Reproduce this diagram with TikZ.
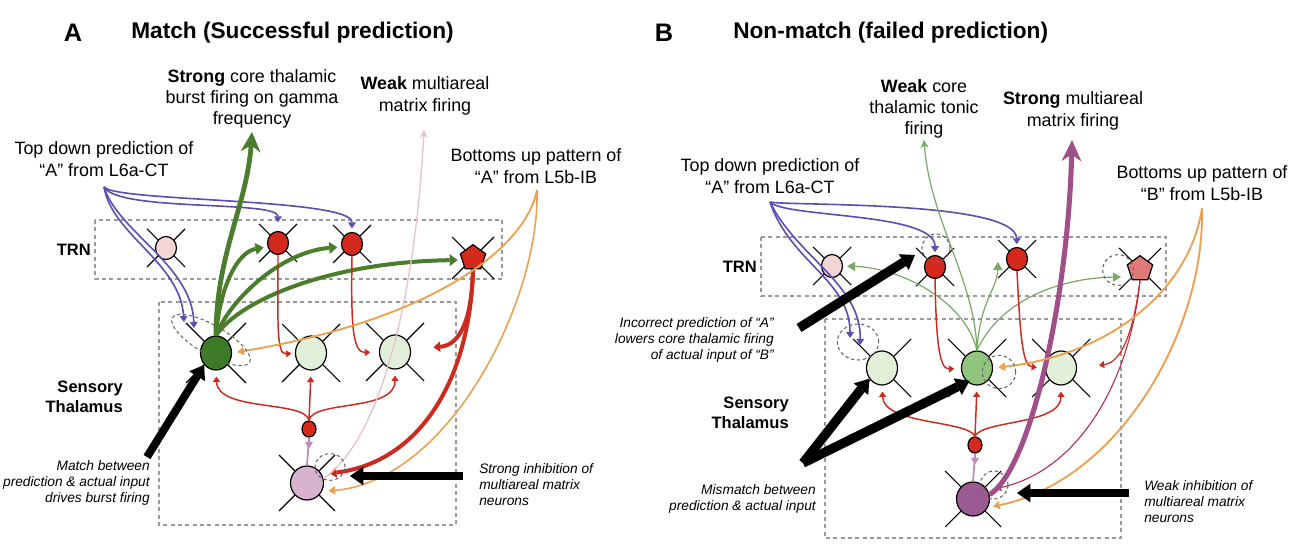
\documentclass[tikz,border=0pt]{standalone}
\usepackage{fontspec}
\setmainfont{Liberation Sans}
\usetikzlibrary{arrows.meta,shapes.geometric,calc}
\pgfdeclarelayer{bg}
\pgfsetlayers{bg,main}
\definecolor{pur}{HTML}{5A4DB3}
\definecolor{org}{HTML}{EBA052}
\definecolor{grnD}{HTML}{4A7D2C}
\definecolor{grnT}{HTML}{78A866}
\definecolor{rd}{HTML}{CC2A1F}
\definecolor{crim}{HTML}{B8283E}
\definecolor{mauve}{HTML}{C08AB8}
\definecolor{paleP}{HTML}{E6C3CC}
\definecolor{mag}{HTML}{A04F88}
\definecolor{pinkN}{HTML}{F3D5D5}
\definecolor{redN}{HTML}{D42A1E}
\definecolor{pentB}{HTML}{E07A78}
\definecolor{grnN}{HTML}{3E7B29}
\definecolor{grnB}{HTML}{8FC57C}
\definecolor{ltg}{HTML}{E2EFD9}
\definecolor{matA}{HTML}{D7B3CF}
\definecolor{matB}{HTML}{9C5A92}
\definecolor{boxg}{HTML}{9A9A9A}
\definecolor{dgray}{HTML}{666666}
\begin{document}
\begin{tikzpicture}[x=0.75pt,y=-0.75pt,
  txt/.style={font=\fontsize{13.4}{16}\selectfont, align=center, inner sep=0pt},
  ttl/.style={font=\fontsize{17}{20}\selectfont\bfseries, inner sep=0pt},
  lbl/.style={font=\fontsize{12.4}{15}\selectfont\bfseries, align=right, inner sep=0pt},
  note/.style={font=\fontsize{10.3}{12}\selectfont\itshape, inner sep=0pt},
  neu/.style={ellipse, draw=black, line width=0.9pt, inner sep=0pt},
  trnn/.style={neu, minimum width=15.75pt, minimum height=17.25pt},
  thn/.style={neu, minimum width=23.25pt, minimum height=25.5pt},
  matn/.style={neu, minimum width=24.75pt, minimum height=25.5pt},
  smn/.style={neu, minimum width=10.5pt, minimum height=12pt, fill=redN},
  pentn/.style={regular polygon, regular polygon sides=5, draw=black, line width=0.9pt, minimum size=20pt, inner sep=0pt},
  arm/.style={draw=black, line width=0.8pt},
  dbox/.style={draw=boxg, line width=0.9pt, dash pattern=on 3pt off 2.5pt},
  dc/.style={draw=dgray, line width=0.8pt, dash pattern=on 2.5pt off 2pt, inner sep=0pt},
  pu/.style={draw=pur, line width=1.2pt, -{Triangle[width=6pt,length=4.5pt,line width=0pt]}},
  gk/.style={draw=grnD, line width=3pt, -{Triangle[width=9pt,length=6pt,line width=0pt]}},
  gt/.style={draw=grnT, line width=0.9pt, -{Triangle[width=7pt,length=6pt,line width=0pt]}},
  rdt/.style={draw=rd, line width=1.1pt, -{Triangle[width=5.5pt,length=4pt,line width=0pt]}},
  rdk/.style={draw=rd, line width=3pt, -{Triangle[width=8pt,length=5pt,line width=0pt]}},
  og/.style={draw=org, line width=1.4pt, -{Triangle[width=6.5pt,length=5pt,line width=0pt]}},
  mv/.style={draw=mauve, line width=1.3pt},
  blk/.style={draw=black, line width=6pt, -{Triangle[width=14pt,length=10pt,line width=0pt]}}
]
\useasboundingbox (0,0) rectangle (1300,559);

%================ PANEL A =================
\node[ttl, font=\fontsize{19}{22}\selectfont\bfseries] (letA) at (73,33) {A};
\node[ttl, anchor=west] (titA) at (131,33) {Match (Successful prediction)};
\node[txt] (strongA) at (252,99) {\textbf{Strong} core thalamic\\burst firing on gamma\\frequency};
\node[txt] (weakA) at (425,96) {\textbf{Weak} multiareal\\matrix firing};
\node[txt] (topA) at (104,159) {Top down prediction of\\“A” from L6a-CT};
\node[txt] (botA) at (536,166) {Bottoms up pattern of\\“A” from L5b-IB};
\node[lbl, anchor=east] (trnA) at (91,250) {TRN};
\node[lbl, anchor=east] (sensA) at (123,397) {Sensory\\Thalamus};
\node[note, anchor=east, align=right] (matchA) at (150,483) {Match between\\prediction \& actual input\\drives burst firing};
\node[note, anchor=west, align=left] (inhA) at (479,485) {Strong inhibition of\\multiareal matrix\\neurons};

\node[trnn, fill=pinkN] (pA) at (166,248) {};
\node[trnn, fill=redN] (r1A) at (278,243) {};
\node[trnn, fill=redN] (r2A) at (352,244) {};
\node[pentn, fill=redN] (pnA) at (473,258) {};
\node[thn, fill=grnN] (gA) at (216,353) {};
\node[thn, fill=ltg] (l1A) at (311,353) {};
\node[thn, fill=ltg] (l2A) at (395,352) {};
\node[smn] (sA) at (309,429) {};
\node[matn, fill=matA] (mA) at (307,483) {};

%================ PANEL B =================
\node[ttl, font=\fontsize{19}{22}\selectfont\bfseries] (letB) at (664,33) {B};
\node[ttl, anchor=west] (titB) at (733,33) {Non-match (failed prediction)};
\node[txt] (weakB) at (924,109) {\textbf{Weak} core\\thalamic tonic\\firing};
\node[txt] (strongB) at (1073,111) {\textbf{Strong} multiareal\\matrix firing};
\node[txt] (topB) at (770,176) {Top down prediction of\\“A” from L6a-CT};
\node[txt] (botB) at (1202,183) {Bottoms up pattern of\\“B” from L5b-IB};
\node[lbl, anchor=east] (trnB) at (757,267) {TRN};
\node[lbl, anchor=east] (sensB) at (789,413) {Sensory\\Thalamus};
\node[note, anchor=east, align=right] (incB) at (774,340) {Incorrect prediction of “A”\\lowers core thalamic firing\\of actual input of “B”};
\node[note, anchor=east, align=right] (misB) at (816,499) {Mismatch between\\prediction \& actual input};
\node[note, anchor=west, align=left] (inhB) at (1144,502) {Weak inhibition of\\multiareal matrix\\neurons};

\node[trnn, fill=pinkN] (pB) at (832,266) {};
\node[trnn, fill=redN] (r1B) at (935,267) {};
\node[trnn, fill=redN] (r2B) at (1017,259) {};
\node[pentn, fill=pentB] (pnB) at (1140,269) {};
\node[thn, fill=ltg] (l1B) at (882,368) {};
\node[thn, fill=grnB] (gB) at (977,368) {};
\node[thn, fill=ltg] (l2B) at (1061,368) {};
\node[smn] (sB) at (975,445) {};
\node[matn, fill=matB] (mB) at (973,499) {};

%================ background: boxes and arms =================
\begin{pgfonlayer}{bg}
\draw[dbox] (95,220) rectangle (502,279);
\draw[dbox] (159,302) rectangle (456,525);
\draw[dbox] (761,237) rectangle (1166,296);
\draw[dbox] (825,319) rectangle (1121,538);
\foreach \n/\a in {pA/19,r1A/19,r2A/19,pnA/21,gA/30,l1A/29,l2A/29,mA/28,
                   pB/19,r1B/19,r2B/19,pnB/21,l1B/29,gB/29,l2B/29,mB/28} {
  \draw[arm] ($(\n)+(-\a,-\a)$) -- ($(\n)+(\a,\a)$) ($(\n)+(\a,-\a)$) -- ($(\n)+(-\a,\a)$);
}
\end{pgfonlayer}

%================ connectors A =================
\coordinate (brA) at (104,187);
\coordinate (gAp1) at (184,322);
\coordinate (gAp2) at (194,328);
\coordinate (gAup) at (252,132);
\coordinate (wkA) at (424,130);
\coordinate (brAo) at (537,190);

\draw[pu, shorten >=6.4pt] (brA) .. controls (118,212) and (278,200) .. (r1A.north);
\draw[pu, shorten >=2.6pt] (brA) .. controls (116,202) and (352,198) .. (r2A.north);
\draw[pu] (brA) .. controls (112,235) and (180,262) .. (gAp1);
\draw[pu] (brA) .. controls (118,232) and (192,265) .. (gAp2);

\draw[draw=grnD, line width=3.6pt, -{Stealth[width=15pt,length=15pt,inset=5pt,line width=0pt]}] (gA.north) .. controls (216,255) and (247,205) .. (gAup);
\draw[gk, shorten >=3pt] (gA.north) .. controls (220,285) and (238,252) .. (r1A.200);
\draw[gk, shorten >=3pt] (gA.north) .. controls (230,300) and (280,252) .. (r2A.195);
\draw[gk, shorten >=3pt] (gA.north) .. controls (240,300) and (330,262) .. (pnA.190);

\draw[rdt, shorten >=2.6pt] (r1A.south) .. controls (278,320) and (276,355) .. (l1A.west);
\draw[rdt, shorten >=6.5pt] (r2A.south) .. controls (351,320) and (352,353) .. (l2A.west);
\draw[rdk, shorten >=17pt] (pnA.south) .. controls (472,315) and (462,345) .. (l2A.10);
\draw[rdk, shorten >=6pt] (pnA.south) .. controls (470,380) and (420,462) .. (mA.30);

\draw[rdt, shorten >=4.5pt] (sA.north) .. controls (305,400) and (218,412) .. (gA.south);
\draw[rdt, shorten >=4.5pt] (sA.north) -- (l1A.south);
\draw[rdt, shorten >=4.5pt] (sA.north) .. controls (313,400) and (395,412) .. (l2A.south);

\draw[mv] (sA.south) -- (mA.north);
\draw[mv, -{Triangle[width=6pt,length=5pt,line width=0pt]}] (sA.south) -- ++(0,11);

\draw[draw=paleP, line width=1pt, -{Stealth[width=6pt,length=6pt,line width=0pt]}] (mA.15) .. controls (380,440) and (415,300) .. (wkA);

\draw[og, shorten >=4pt] (brAo) .. controls (525,250) and (430,320) .. (gA.east);
\draw[og, line width=1.2pt, shorten >=5pt] (brAo) .. controls (540,300) and (450,480) .. (mA.330);

\node[dc, ellipse, minimum width=67pt, minimum height=22pt, rotate=-30] (dA1) at (211,340) {};
\node[dc, ellipse, minimum width=22.5pt, minimum height=20pt] (dA2) at (330,467) {};

%================ connectors B =================
\coordinate (brB) at (770,202);
\coordinate (l1Bp1) at (850,338);
\coordinate (l1Bp2) at (860,345);
\coordinate (wkB) at (924,140);
\coordinate (stB) at (1072,140);
\coordinate (r2Bg) at (998,262);
\coordinate (pnBg) at (1121,277);
\coordinate (brBo) at (1202,208);

\draw[pu, shorten >=2pt] (brB) .. controls (785,218) and (935,212) .. (r1B.north);
\draw[pu, shorten >=2pt] (brB) .. controls (785,206) and (1015,200) .. (r2B.north);
\draw[pu] (brB) .. controls (790,262) and (850,280) .. (l1Bp1);
\draw[pu] (brB) .. controls (796,256) and (862,285) .. (l1Bp2);

\draw[gt, -{Stealth[width=6pt,length=6pt,line width=0pt]}] (gB.north) .. controls (975,280) and (930,220) .. (wkB);
\draw[gt, shorten >=3pt] (gB.north) .. controls (965,300) and (900,268) .. (pB.east);
\draw[gt] (gB.north) .. controls (980,300) and (997,290) .. (r2Bg);
\draw[gt] (gB.north) .. controls (1000,300) and (1060,278) .. (pnBg);

\draw[rdt, shorten >=5pt] (r1B.south) .. controls (936,330) and (938,370) .. (gB.west);
\draw[rdt, shorten >=6pt] (r2B.south) .. controls (1020,330) and (1022,366) .. (l2B.west);
\draw[rdt, line width=0.9pt, shorten >=16.5pt] (pnB.south) .. controls (1135,320) and (1125,362) .. (l2B.east);
\draw[draw=crim, line width=0.8pt, -{Triangle[width=5.5pt,length=4pt,line width=0pt]}, shorten >=6pt] (pnB.south) .. controls (1130,380) and (1080,470) .. (mB.30);

\draw[rdt, shorten >=4.5pt] (sB.north) .. controls (968,420) and (884,425) .. (l1B.south);
\draw[rdt, shorten >=4.5pt] (sB.north) -- (gB.south);
\draw[rdt, shorten >=4.5pt] (sB.north) .. controls (982,420) and (1061,425) .. (l2B.south);

\draw[mv] (sB.south) -- (mB.north);
\draw[mv, -{Triangle[width=6pt,length=5pt,line width=0pt]}] (sB.south) -- ++(0,11);

\draw[draw=mag, line width=3.8pt, -{Stealth[width=15pt,length=16pt,inset=5pt,line width=0pt]}] (mB.15) .. controls (1030,470) and (1068,300) .. (stB);

\draw[og, shorten >=4pt] (brBo) .. controls (1190,290) and (1110,355) .. (gB.east);
\draw[og, shorten >=4pt] (brBo) .. controls (1205,330) and (1120,480) .. (mB.330);

\node[dc, circle, minimum size=21pt] (dB1) at (936,248) {};
\node[dc, ellipse, minimum width=31pt, minimum height=27pt] (dB2) at (858,342) {};
\node[dc, circle, minimum size=25pt] (dB3) at (999,372) {};
\node[dc, circle, minimum size=23pt] (dB4) at (1118,270) {};
\node[dc, circle, minimum size=21pt] (dB5) at (994,485) {};

%================ black arrows =================
\coordinate (bA1s) at (147,457);
\coordinate (bA2s) at (463,476);
\coordinate (bA2e) at (350,476);
\draw[blk] (bA1s) -- (gA.225);
\draw[blk] (bA2s) -- (bA2e);

\coordinate (bB1s) at (799,328);
\coordinate (bB1e) at (915,255);
\coordinate (apB) at (803,463);
\coordinate (bB4s) at (1129,493);
\coordinate (bB4e) at (1017,493);
\draw[blk, line width=7pt] (bB1s) -- (bB1e);
\draw[blk, line width=7pt] (apB) -- (l1B.220);
\draw[blk, line width=7pt, shorten >=-2pt] (apB) -- (gB.235);
\draw[blk] (bB4s) -- (bB4e);
\end{tikzpicture}
\end{document}
